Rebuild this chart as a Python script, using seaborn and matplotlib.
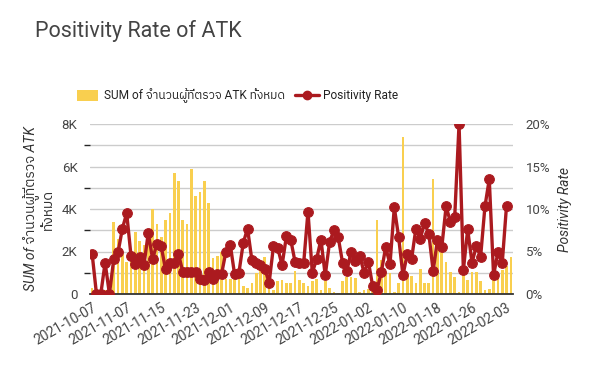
import numpy as np
import pandas as pd
import matplotlib
matplotlib.use("Agg")
import matplotlib.pyplot as plt
import seaborn as sns
from matplotlib import font_manager as fm
from matplotlib.ft2font import FT2Font
from matplotlib.patches import Patch
from matplotlib.lines import Line2D
from matplotlib.ticker import FuncFormatter, MultipleLocator

# ---------------- data ----------------
dates = ["2021-10-07"] + [d.strftime("%Y-%m-%d") for d in pd.date_range("2021-10-31", "2022-02-04")]

tests = [300, 100, 100, 200, 100, 3400, 2600, 1900, 1500, 1800,
         2900, 2500, 2300, 3000, 4000, 3300, 2700, 3500, 3800, 5700,
         5300, 3500, 3300, 5900, 4600, 4800, 5300, 4300, 1700, 1800,
         2000, 700, 700, 750, 700, 400, 300, 500, 1000, 1300,
         1750, 300, 200, 600, 650, 500, 500, 1100, 650, 500,
         400, 600, 700, 200, 600, 300, 100, 50, 600, 800,
         800, 750, 100, 200, 250, 500, 3500, 1600, 1050, 1000,
         100, 500, 7400, 950, 850, 500, 1200, 500, 500, 5400,
         2500, 2100, 1500, 1050, 800, 100, 950, 650, 1050, 1050,
         600, 200, 250, 650, 950, 1150, 1300, 1750]

rate = [4.7, 0, 0, 3.7, 0, 4.1, 4.9, 7.7, 9.5, 4.5,
        3.5, 4.4, 3.4, 7.2, 4.1, 5.9, 5.6, 2.9, 3.6, 3.7,
        4.7, 2.6, 2.6, 2.6, 2.6, 1.8, 1.7, 2.6, 1.8, 2.4,
        2.4, 5.0, 5.8, 2.3, 2.5, 6.0, 7.7, 4.0, 3.7, 3.4,
        3.0, 1.3, 5.6, 5.4, 3.4, 6.8, 6.4, 3.8, 3.6, 3.6,
        9.7, 2.5, 4.1, 6.4, 2.2, 6.1, 7.5, 6.7, 3.7, 2.7,
        5.0, 3.9, 4.5, 2.5, 3.8, 0.9, 0.5, 2.6, 5.5, 3.5,
        10.2, 6.7, 2.2, 4.7, 4.1, 7.7, 6.5, 8.3, 7.1, 2.7,
        6.4, 5.5, 10.3, 8.5, 9.1, 20.0, 2.8, 7.6, 3.7, 5.6,
        4.4, 10.3, 13.5, 2.2, 4.9, 3.6, 10.4, np.nan]

title = "Positivity Rate of ATK"
bar_label = "SUM of จำนวนผู้ที่ตรวจ ATK ทั้งหมด"
line_label = "Positivity Rate"

BAR_COLOR = "#f9cf4f"
LINE_COLOR = "#ab1a1f"
TEXT_COLOR = "#444444"

# ---------------- fonts ----------------
thai_family = None
try:
    for path in sorted(fm.findSystemFonts()):
        try:
            f = FT2Font(path)
            if 0x0E08 in f.get_charmap():
                fm.fontManager.addfont(path)
                thai_family = fm.FontProperties(fname=path).get_name()
                if "Sans" in thai_family or "sans" in path.lower():
                    break
        except Exception:
            pass
except Exception:
    pass

sns.set_theme(style="white")
families = ["Roboto"]
if thai_family:
    families.append(thai_family)
families.append("DejaVu Sans")
plt.rcParams["font.family"] = families

# ---------------- plot ----------------
df = pd.DataFrame({"date": dates, "tests": tests, "rate": rate})
df["pos"] = np.arange(len(df))

fig = plt.figure(figsize=(6.03, 3.65), dpi=100)
ax = fig.add_axes([90 / 603, 1 - 294 / 365, (513 - 90) / 603, (294 - 124) / 365])

sns.barplot(data=df, x="date", y="tests", color=BAR_COLOR, saturation=1,
            width=0.62, ax=ax, order=dates, linewidth=0)
ax.set_ylim(0, 8000)
ax.set_xlim(-0.5, len(dates) - 0.5)
ax.yaxis.set_major_locator(MultipleLocator(2000))
ax.yaxis.set_minor_locator(MultipleLocator(1000))
ax.yaxis.set_major_formatter(FuncFormatter(lambda v, p: "0" if v == 0 else f"{int(v/1000)}K"))
ax.grid(True, which="both", axis="y", color="#cccccc", linewidth=1)
ax.set_axisbelow(True)
for s in ["top", "right", "left"]:
    ax.spines[s].set_visible(False)
ax.spines["bottom"].set_color("#333333")
ax.spines["bottom"].set_linewidth(1.3)

ticks = list(range(0, len(dates), 8))
ax.set_xticks(ticks)
ax.set_xticklabels([dates[i] for i in ticks], rotation=30, ha="right",
                   rotation_mode="anchor", fontsize=10, color=TEXT_COLOR)
ax.tick_params(axis="x", length=0, pad=5)
ax.tick_params(axis="y", length=0, labelsize=9.5, labelcolor=TEXT_COLOR, pad=9)
ax.set_xlabel("")
ax.set_ylabel(bar_label.replace(" ทั้งหมด", "\nทั้งหมด"), fontsize=10,
              style="italic", color="#333333", linespacing=1.05)
ax.yaxis.set_label_coords(-0.083, 0.5)

ax2 = ax.twinx()
sns.lineplot(data=df, x="pos", y="rate", color=LINE_COLOR, linewidth=2.4,
             marker="o", markersize=7, markeredgecolor=LINE_COLOR,
             ax=ax2, legend=False)
ax2.set_ylim(0, 20)
ax2.set_xlim(-0.5, len(dates) - 0.5)
ax2.yaxis.set_major_locator(MultipleLocator(5))
ax2.yaxis.set_major_formatter(FuncFormatter(lambda v, p: f"{int(v)}%"))
ax2.tick_params(axis="y", length=0, labelsize=9.5, labelcolor=TEXT_COLOR, pad=9)
ax2.grid(False)
for s in ["top", "right", "left", "bottom"]:
    ax2.spines[s].set_visible(False)
ax2.set_ylabel(line_label, fontsize=10, style="italic", color="#333333")
ax2.yaxis.set_label_coords(1.107, 0.5)
ax2.set_xlabel("")

fig.text(35 / 603, 1 - 31 / 365, title, fontsize=15.5, color=TEXT_COLOR,
         ha="left", va="center")

leg1 = fig.legend(handles=[Patch(facecolor=BAR_COLOR, edgecolor="none")],
                  labels=[bar_label], loc="center left",
                  bbox_to_anchor=(66 / 603, 1 - 96 / 365), frameon=False,
                  fontsize=8.6, handlelength=1.8, handleheight=1.1,
                  handletextpad=0.45, labelcolor="#222222")
leg2 = fig.legend(handles=[Line2D([0], [0], color=LINE_COLOR, lw=2.4, marker="o", markersize=6)],
                  labels=[line_label], loc="center left",
                  bbox_to_anchor=(284 / 603, 1 - 96 / 365), frameon=False,
                  fontsize=8.6, handlelength=2.0, handletextpad=0.4,
                  labelcolor="#222222")

fig.savefig("out.png", dpi=100, facecolor="white")
